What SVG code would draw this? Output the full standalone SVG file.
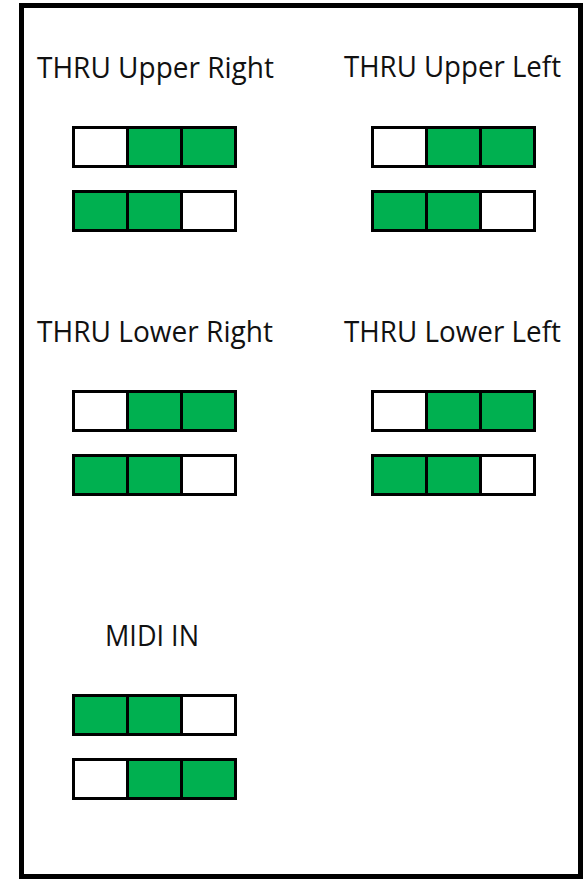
<svg xmlns="http://www.w3.org/2000/svg" xmlns:xlink="http://www.w3.org/1999/xlink" width="585" height="880" viewBox="0 0 585 880">
  <style>
    .lbl { font-family: "Open Sans", "Liberation Sans", sans-serif; font-size: 29px; fill: #111111; }
    .g { fill: #00B050; }
    .w { fill: #FFFFFF; }
    .ol { fill: none; stroke: #000000; stroke-width: 3; }
  </style>
  <defs>
    <g id="wgg">
      <rect class="w" x="0" y="0" width="54" height="39"/>
      <rect class="g" x="54" y="0" width="54" height="39"/>
      <rect class="g" x="108" y="0" width="54" height="39"/>
      <rect class="ol" x="0" y="0" width="162" height="39"/>
      <line class="ol" x1="54" y1="0" x2="54" y2="39"/>
      <line class="ol" x1="108" y1="0" x2="108" y2="39"/>
    </g>
    <g id="ggw">
      <rect class="g" x="0" y="0" width="54" height="39"/>
      <rect class="g" x="54" y="0" width="54" height="39"/>
      <rect class="w" x="108" y="0" width="54" height="39"/>
      <rect class="ol" x="0" y="0" width="162" height="39"/>
      <line class="ol" x1="54" y1="0" x2="54" y2="39"/>
      <line class="ol" x1="108" y1="0" x2="108" y2="39"/>
    </g>
  </defs>
  <rect x="0" y="0" width="585" height="880" fill="#FFFFFF"/>
  <rect id="frame" x="21.5" y="5.5" width="559" height="871" fill="none" stroke="#000000" stroke-width="5"/>

  <g id="thru-upper-right">
    <text class="lbl" x="37" y="78" textLength="237" lengthAdjust="spacingAndGlyphs">THRU Upper Right</text>
    <use xlink:href="#wgg" x="73.5" y="127.5"/>
    <use xlink:href="#ggw" x="73.5" y="191.5"/>
  </g>

  <g id="thru-upper-left">
    <text class="lbl" x="344" y="77" textLength="217" lengthAdjust="spacingAndGlyphs">THRU Upper Left</text>
    <use xlink:href="#wgg" x="372.5" y="127.5"/>
    <use xlink:href="#ggw" x="372.5" y="191.5"/>
  </g>

  <g id="thru-lower-right">
    <text class="lbl" x="37" y="342" textLength="236" lengthAdjust="spacingAndGlyphs">THRU Lower Right</text>
    <use xlink:href="#wgg" x="73.5" y="391.5"/>
    <use xlink:href="#ggw" x="73.5" y="455.5"/>
  </g>

  <g id="thru-lower-left">
    <text class="lbl" x="344" y="342" textLength="217" lengthAdjust="spacingAndGlyphs">THRU Lower Left</text>
    <use xlink:href="#wgg" x="372.5" y="391.5"/>
    <use xlink:href="#ggw" x="372.5" y="455.5"/>
  </g>

  <g id="midi-in">
    <text class="lbl" x="105" y="646" textLength="94" lengthAdjust="spacingAndGlyphs">MIDI IN</text>
    <use xlink:href="#ggw" x="73.5" y="695.5"/>
    <use xlink:href="#wgg" x="73.5" y="759.5"/>
  </g>

  <g id="connectors"/>
</svg>
